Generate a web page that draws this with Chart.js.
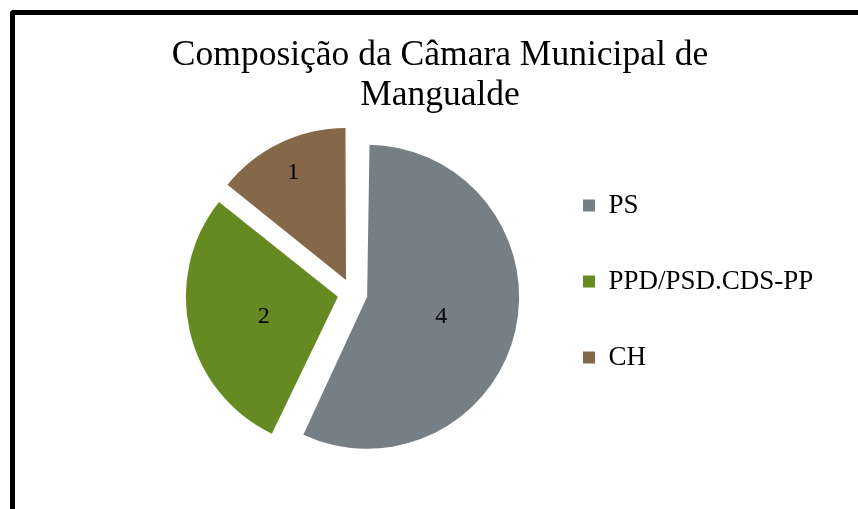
<!DOCTYPE html>
<html>
<head>
<meta charset="utf-8">
<script src="https://cdn.jsdelivr.net/npm/chart.js"></script>
<style>
    html, body { margin: 0; padding: 0; background: #fff; overflow: hidden; }
    #frame {
        position: absolute; left: 10px; top: 10px;
        width: 900px; height: 560px;
        border-left: 5.5px solid #000; border-top: 5.5px solid #000;
        border-top-left-radius: 4px;
    }
    #chart { position: absolute; left: 0; top: 0; }
</style>
</head>
<body>
<div id="frame"></div>
<canvas id="chart" width="858" height="509"></canvas>
<script>
// dados
const parties = ['PS', 'PPD/PSD.CDS-PP', 'CH'];
const seats = [4, 2, 1];
const colors = ['#767f83', '#658a22', '#856749'];
const titleLines = ['Composição da Câmara Municipal de', 'Mangualde'];

const R = 152;
const explode = 60;               // chart.js moves each arc by offset / 4
const labelPos = [0.5, 0.5, 0.8]; // where the number sits along the radius

const sliceLabels = {
    id: 'sliceLabels',
    afterLayout(chart) {
        // legend is kept narrow so the title centre lands right,
        // let its text run past the box instead of being clipped
        chart.legend.right = chart.width;
    },
    beforeDatasetsDraw(chart) {
        // big arcs get drawn wider by offset/4, put them back to R
        chart.getDatasetMeta(0).data.forEach(arc => {
            const fix = 1 - Math.sin(Math.min(Math.PI, arc.circumference));
            arc.outerRadius = R - explode / 4 * fix;
        });
    },
    afterDatasetsDraw(chart) {
        const ctx = chart.ctx;
        ctx.save();
        ctx.font = '24px "Liberation Serif"';
        ctx.fillStyle = '#000';
        ctx.textAlign = 'center';
        ctx.textBaseline = 'middle';
        chart.getDatasetMeta(0).data.forEach((arc, i) => {
            const a = (arc.startAngle + arc.endAngle) / 2;
            const d = explode / 4 + R * labelPos[i];
            ctx.fillText(String(seats[i]), arc.x + Math.cos(a) * d, arc.y + Math.sin(a) * d + 2.5);
        });
        ctx.restore();
    }
};

new Chart(document.getElementById('chart').getContext('2d'), {
    type: 'pie',
    data: {
        labels: parties,
        datasets: [{
            data: seats,
            backgroundColor: colors,
            borderWidth: 0,
            offset: explode
        }]
    },
    options: {
        responsive: false,
        animation: false,
        events: [],
        radius: R,
        layout: {
            padding: { left: 171, right: 149, top: 0, bottom: 65 }
        },
        plugins: {
            title: {
                display: true,
                fullSize: true,
                text: titleLines,
                color: '#000',
                font: { family: '"Liberation Serif"', size: 35.5, weight: 'normal', lineHeight: '40px' },
                padding: { top: 36, bottom: 27 }
            },
            legend: {
                position: 'right',
                align: 'start',
                fullSize: false,
                maxWidth: 175,
                labels: {
                    boxWidth: 12,
                    boxHeight: 12,
                    padding: 49,
                    color: '#000',
                    font: { family: '"Liberation Serif"', size: 27 }
                }
            },
            tooltip: { enabled: false }
        }
    },
    plugins: [sliceLabels]
});
</script>
</body>
</html>
